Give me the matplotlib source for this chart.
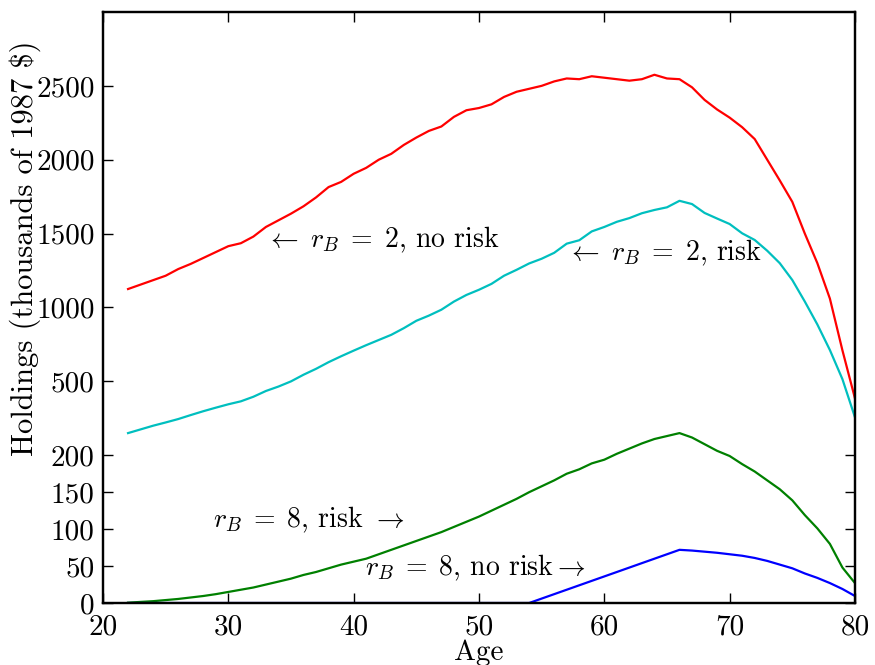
import matplotlib
matplotlib.use("Agg")
import matplotlib.pyplot as plt
import numpy as np

plt.rcParams['font.family'] = 'serif'
plt.rcParams['font.serif'] = ['cmr10']
plt.rcParams['mathtext.fontset'] = 'cm'
plt.rcParams['axes.formatter.use_mathtext'] = True

ages = list(range(22, 81))

# upper panel series (thousands of 1987 $)
red_no_risk_rb2 = [1125, 1155, 1185, 1215, 1260, 1295, 1335, 1375, 1415, 1435,
                   1480, 1545, 1590, 1635, 1685, 1745, 1815, 1850, 1905, 1945,
                   2000, 2040, 2100, 2150, 2195, 2225, 2290, 2335, 2350, 2375,
                   2425, 2460, 2480, 2500, 2530, 2550, 2545, 2565, 2555, 2545,
                   2535, 2545, 2575, 2550, 2545, 2490, 2405, 2340, 2285, 2220,
                   2140, 2000, 1860, 1715, 1500, 1300, 1060, 710, 385]
cyan_risk_rb2 = [150, 175, 200, 222, 245, 272, 298, 322, 345, 365,
                 396, 435, 465, 500, 545, 585, 630, 670, 708, 745,
                 780, 815, 860, 910, 945, 985, 1040, 1085, 1120, 1160,
                 1215, 1255, 1298, 1330, 1370, 1432, 1455, 1515, 1545, 1580,
                 1605, 1638, 1660, 1678, 1722, 1700, 1640, 1602, 1565, 1502,
                 1457, 1384, 1300, 1186, 1040, 885, 712, 515, 257]
# lower panel series
green_risk_rb8 = [0.5, 1.5, 2.5, 4, 5.5, 7.5, 9.5, 12, 15, 18,
                  21, 25, 29, 33, 38, 42, 47, 52, 56, 60,
                  66, 72, 78, 84, 90, 96, 103, 110, 117, 125,
                  133, 141, 150, 158, 166, 175, 181, 189, 194, 202,
                  209, 216, 222, 226, 230, 224, 215, 206, 199, 188,
                  178, 166, 154, 139, 119, 101, 80, 48, 27]
blue_no_risk_rb8 = [0, 0, 0, 0, 0, 0, 0, 0, 0, 0,
                    0, 0, 0, 0, 0, 0, 0, 0, 0, 0,
                    0, 0, 0, 0, 0, 0, 0, 0, 0, 0,
                    0, 0, 0, 6, 12, 18, 24, 30, 36, 42,
                    48, 54, 60, 66, 72, 71, 69.5, 68, 66, 64,
                    61, 57, 52, 47, 40, 34, 27, 19, 9.5]

lower_ticks = [0, 50, 100, 150, 200]
upper_ticks = [500, 1000, 1500, 2000, 2500]
x_ticks = [20, 30, 40, 50, 60, 70, 80]

BREAK = 200.0
UPPER_SCALE = 5.0


def upper_to_axis(v):
    return BREAK + np.asarray(v, dtype=float) / UPPER_SCALE


fig = plt.figure(figsize=(8.75, 6.65), dpi=100)
ax = fig.add_axes([0.1177, 0.0932, 0.8594, 0.8888])

lw = 1.6
ax.plot(ages, upper_to_axis(red_no_risk_rb2), color='#ff0000', lw=lw)
ax.plot(ages, upper_to_axis(cyan_risk_rb2), color='#00bfbf', lw=lw)
ax.plot(ages, green_risk_rb8, color='#008000', lw=lw)
ax.plot(ages, blue_no_risk_rb8, color='#0000ff', lw=lw)

ax.set_xlim(20, 80)
ax.set_ylim(0, 800)

ytick_pos = list(lower_ticks) + list(upper_to_axis(upper_ticks))
ytick_lab = [str(t) for t in lower_ticks] + [str(t) for t in upper_ticks]
ax.set_yticks(ytick_pos)
ax.set_yticklabels(ytick_lab)
ax.set_xticks(x_ticks)
ax.set_xticklabels([str(t) for t in x_ticks])

ax.tick_params(axis='both', direction='in', length=7, width=1.0,
               labelsize=21, top=True, right=False, pad=6)
ax.tick_params(axis='x', pad=8)
for tick in ax.yaxis.get_major_ticks()[len(lower_ticks):]:
    tick.tick1line.set_color('#808080')

ax2 = ax.twinx()
ax2.set_ylim(0, 800)
ax2.set_yticks(lower_ticks)
ax2.tick_params(axis='y', direction='in', length=7, width=1.0, labelright=False)

for a in (ax, ax2):
    for s in a.spines.values():
        s.set_linewidth(1.6)

ax.set_xlabel('Age', fontsize=21, labelpad=-1)
ax.set_ylabel(r'Holdings (thousands of 1987 \$)', fontsize=22)
ax.yaxis.set_label_coords(-0.083, 0.6)

fs = 20
ax.text(33.0, 491, r'$\leftarrow\;r_B\;=\;2$, no risk', fontsize=fs, va='center', ha='left')
ax.text(57.0, 474, r'$\leftarrow\;r_B\;=\;2$, risk', fontsize=fs, va='center', ha='left')
ax.text(28.8, 112, r'$r_B\;=\;8$, risk $\rightarrow$', fontsize=fs, va='center', ha='left')
ax.text(40.9, 47, r'$r_B\;=\;8$, no risk$\rightarrow$', fontsize=fs, va='center', ha='left')

fig.savefig('out.png', dpi=100)
